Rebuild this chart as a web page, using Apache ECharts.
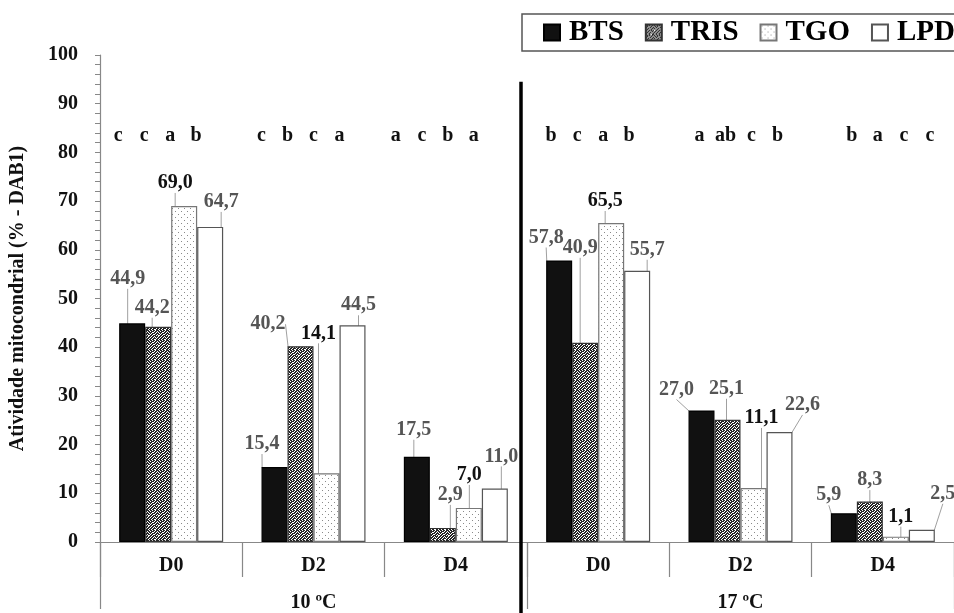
<!DOCTYPE html>
<html>
<head>
<meta charset="utf-8">
<script src="https://cdn.jsdelivr.net/npm/echarts@6/dist/echarts.min.js"></script>
<style>html,body{margin:0;padding:0;background:#fff;}#c{width:954px;height:613px;}</style>
</head>
<body>
<div id="c"></div>
<script>
// ---- data ----
const categories = ['D0', 'D2', 'D4', 'D0', 'D2', 'D4'];
const groups = ['10 ºC', '17 ºC'];
const seriesNames = ['BTS', 'TRIS', 'TGO', 'LPD'];
const bts  = [44.9, 15.4, 17.5, 57.8, 27.0, 5.9];
const tris = [44.2, 40.2, 2.9, 40.9, 25.1, 8.3];
const tgo  = [69.0, 14.1, 7.0, 65.5, 11.1, 1.1];
const lpd  = [64.7, 44.5, 11.0, 55.7, 22.6, 2.5];
const lettersBTS  = ['c', 'c', 'a', 'b', 'a', 'b'];
const lettersTRIS = ['c', 'b', 'c', 'c', 'ab', 'a'];
const lettersTGO  = ['a', 'c', 'b', 'a', 'c', 'c'];
const lettersLPD  = ['b', 'a', 'a', 'b', 'b', 'c'];
const yTicks = [0, 100, 10];

// ---- styling config (label callout offsets, px) ----
const labelDx = [
  [-4.5, -12.5, -3, -13, -25, -15],
  [-6, -32.5, 7.5, -5, -1, 0],
  [-9, -8, 0.5, -6, 8, 5],
  [11, 6, 6.5, 10, 23, 21]
];
const labelDy = [
  [-29.5, -8, -12, -8, -6, -3],
  [-4, -7, -18, -80, -16, -6.5],
  [-8, -125, -18, -7, -55, -5],
  [-10, -5, -17, -6, -12, -21]
];
const letterShift = [-14, -13, -21, -8, -2, 8];
const letterLevel = 83.5;
const BAR_W = 26;
const FONT = '"Liberation Serif", "Times New Roman", serif';

function makePattern(bits, dark, light) {
  const n = bits.length, m = bits[0].length;
  const cv = document.createElement('canvas');
  cv.width = m; cv.height = n;
  const ctx = cv.getContext('2d');
  for (let r = 0; r < n; r++) for (let c = 0; c < m; c++) {
    ctx.fillStyle = bits[r][c] === '1' ? dark : light;
    ctx.fillRect(c, r, 1, 1);
  }
  return { image: cv, repeat: 'repeat' };
}
const trisPat = makePattern([
  '1101101110',
  '0111011011',
  '1100110101',
  '1011101110',
  '0110011011',
  '1101110100',
  '1011011101',
  '0110101011',
  '1101110110',
  '1011001101'
], '#262626', '#ffffff');
const tgoPat = makePattern([
  '000000','010000','000000','000000','000010','000000'
], '#8a8a8a', '#ffffff');

const values = [bts, tris, tgo, lpd];
const fills = ['#111111', trisPat, tgoPat, '#ffffff'];
const borders = ['#000000', '#333333', '#777777', '#555555'];
const labelColors = ['#555555', '#555555', '#111111', '#555555'];
const allLetters = [lettersBTS, lettersTRIS, lettersTGO, lettersLPD];

const fmt = v => v.toFixed(1).replace('.', ',');

const barSeries = seriesNames.map((name, si) => ({
  name: name,
  type: 'bar',
  data: values[si],
  barWidth: BAR_W,
  barGap: 0,
  itemStyle: { color: fills[si], borderColor: borders[si], borderWidth: 1.2 },
  label: {
    show: true, position: 'top', distance: 5,
    formatter: p => fmt(p.value),
    fontFamily: FONT, fontWeight: 'bold', fontSize: 20, color: labelColors[si]
  },
  labelLine: { show: true, lineStyle: { color: '#a0a0a0', width: 1 } },
  labelLayout: p => ({ dx: labelDx[si][p.dataIndex], dy: labelDy[si][p.dataIndex] })
}));

const letterData = [];
const letterText = [];
allLetters.forEach((arr, bi) => arr.forEach((t, ci) => { letterData.push([ci, bi]); letterText.push(t); }));

const letterSeries = {
  type: 'custom',
  name: 'letters',
  data: letterData,
  silent: true,
  renderItem: (params, api) => {
    const ci = api.value(0), bi = api.value(1);
    const p = api.coord([ci, letterLevel]);
    return {
      type: 'text',
      x: p[0] + (bi - 1.5) * BAR_W + letterShift[ci],
      y: p[1],
      style: {
        text: letterText[params.dataIndex], fill: '#111',
        font: 'bold 20px ' + FONT, align: 'center', verticalAlign: 'middle'
      }
    };
  }
};

const chart = echarts.init(document.getElementById('c'), null, { renderer: 'canvas' });
chart.setOption({
  animation: false,
  backgroundColor: '#fff',
  legend: {
    data: seriesNames,
    orient: 'horizontal',
    left: 522, top: 14, width: 600,
    icon: 'rect', itemWidth: 16, itemHeight: 16, itemGap: 21,
    padding: [4, 14, 4, 21],
    borderColor: '#555', borderWidth: 1.5,
    textStyle: { fontFamily: FONT, fontWeight: 'bold', fontSize: 29, color: '#000', padding: [0, 0, 0, 4] }
  },
  grid: { left: 97, top: 55, width: 858, height: 491, containLabel: false },
  xAxis: [
    {
      type: 'category', data: categories, position: 'bottom',
      axisLine: { show: true, lineStyle: { color: '#888', width: 1.2 } },
      axisTick: { show: true, interval: 0, length: 35, lineStyle: { color: '#888', width: 1.2 } },
      axisLabel: { interval: 0, margin: 14, fontFamily: FONT, fontWeight: 'bold', fontSize: 20, color: '#111' }
    },
    {
      type: 'category', data: groups, position: 'bottom',
      axisLine: { show: false },
      axisTick: { show: true, interval: 0, length: 67, lineStyle: { color: '#888', width: 1.2 } },
      axisLabel: { interval: 0, margin: 51, fontFamily: FONT, fontWeight: 'bold', fontSize: 20, color: '#111' }
    }
  ],
  yAxis: {
    type: 'value', min: yTicks[0], max: yTicks[1], interval: yTicks[2],
    name: 'Atividade mitocondrial (% - DAB1)',
    nameLocation: 'middle', nameGap: 72,
    nameTextStyle: { fontFamily: FONT, fontWeight: 'bold', fontSize: 20, color: '#111' },
    axisLine: { show: true, lineStyle: { color: '#888', width: 1.2 } },
    axisTick: { show: true, length: 5, lineStyle: { color: '#888' } },
    minorTick: { show: true, splitNumber: 5, length: 5, lineStyle: { color: '#888' } },
    splitLine: { show: false },
    axisLabel: { margin: 22, fontFamily: FONT, fontWeight: 'bold', fontSize: 20, color: '#111' }
  },
  series: barSeries.concat([letterSeries])
});

// panel divider
const xa = chart.convertToPixel({ xAxisIndex: 0 }, 2);
const xb = chart.convertToPixel({ xAxisIndex: 0 }, 3);
const divX = (xa + xb) / 2 - 6;
const divTop = chart.convertToPixel({ yAxisIndex: 0 }, 94.5);
chart.setOption({
  graphic: [{
    type: 'line', silent: true, z: 100,
    shape: { x1: divX, y1: divTop, x2: divX, y2: chart.getHeight() },
    style: { stroke: '#000', lineWidth: 3.5 }
  }]
});
</script>
</body>
</html>
